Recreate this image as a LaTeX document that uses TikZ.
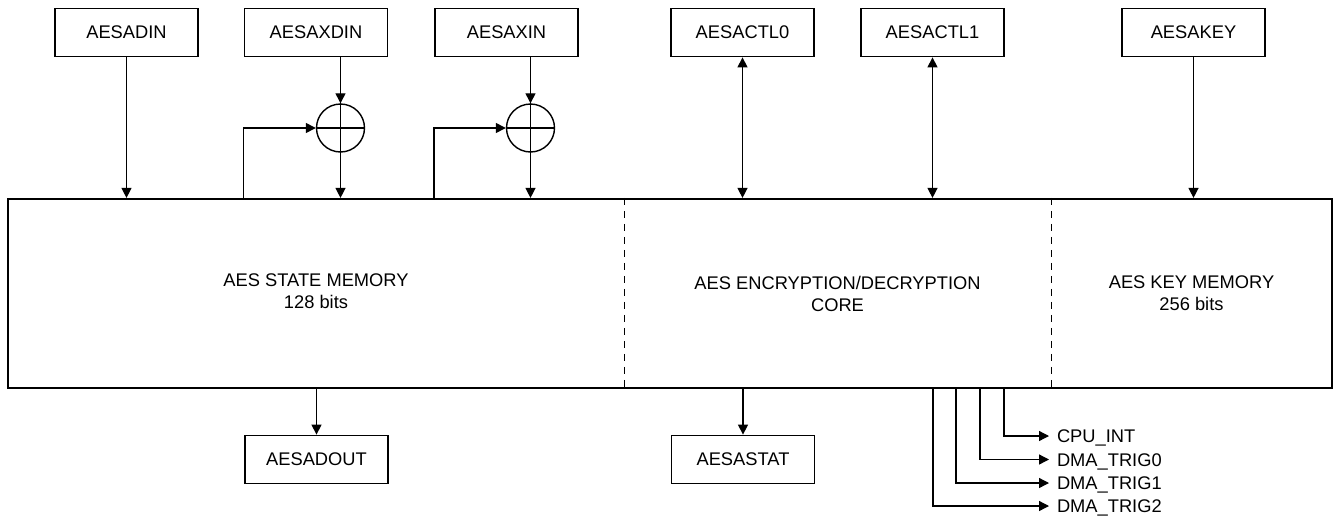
\documentclass[tikz,border=0pt]{standalone}
\usepackage{fontspec}
\setmainfont{Liberation Sans}
\usetikzlibrary{arrows.meta}
\begin{document}
\begin{tikzpicture}[x=1pt,y=-1pt,
  reg/.style={draw, line width=1.8pt, minimum width=143pt, minimum height=48pt, inner sep=0pt, font=\fontsize{18.3}{22}\selectfont},
  lbl/.style={font=\fontsize{18.3}{22}\selectfont, align=center, inner sep=0pt},
  sig/.style={font=\fontsize{18.3}{22}\selectfont, anchor=west, inner xsep=8pt, inner ysep=0pt, outer sep=0pt, text height=13pt, text depth=0pt},
  tip/.style={Triangle[length=10pt,width=10pt]},
  ln/.style={line width=1.3pt},
  arr/.style={ln, -{Triangle[length=10pt,width=10pt]}},
  darr/.style={ln, {Triangle[length=10pt,width=10pt]}-{Triangle[length=10pt,width=10pt]}},
  xor/.style={draw, circle, line width=1.4pt, minimum size=48pt, inner sep=0pt},
  sep/.style={line width=1pt, dash pattern=on 7pt off 6pt}
]
\useasboundingbox (0,0) rectangle (1336,517);

% main block
\node[draw, line width=2.2pt, minimum width=1324pt, minimum height=189pt, inner sep=0pt] (main) at (670,293.5) {};
\coordinate (d1t) at (main.north -| 624,0);
\coordinate (d1b) at (main.south -| 624,0);
\coordinate (d2t) at (main.north -| 1051,0);
\coordinate (d2b) at (main.south -| 1051,0);
\draw[sep] (d1t) -- (d1b);
\draw[sep] (d2t) -- (d2b);

\node[lbl] (state) at (316,291) {AES STATE MEMORY\\128 bits};
\node[lbl] (core) at (837.5,294) {AES ENCRYPTION/DECRYPTION\\CORE};
\node[lbl] (keym) at (1191.5,293) {AES KEY MEMORY\\256 bits};

% top registers
\node[reg] (din) at (126.5,32.5) {AESADIN};
\node[reg] (xdin) at (316,32.5) {AESAXDIN};
\node[reg] (xin) at (506.5,32.5) {AESAXIN};
\node[reg] (c0) at (742.5,32.5) {AESACTL0};
\node[reg] (c1) at (932.5,32.5) {AESACTL1};
\node[reg] (key) at (1193.5,32.5) {AESAKEY};

% xor gates
\node[xor] (x1) at (340.5,128) {};
\node[xor] (x2) at (530.5,128) {};
\draw[ln] (x1.north) -- (x1.south) (x1.west) -- (x1.east);
\draw[ln] (x2.north) -- (x2.south) (x2.west) -- (x2.east);

% top connectors
\draw[arr] (din.south) -- (din.south |- main.north);
\draw[arr] (xdin.south -| x1) -- (x1.north);
\draw[arr] (x1.south) -- (x1.south |- main.north);
\draw[arr] (main.north -| xdin.west) |- (x1.west);
\draw[arr] (xin.south -| x2) -- (x2.north);
\draw[arr] (x2.south) -- (x2.south |- main.north);
\draw[arr] (main.north -| xin.west) |- (x2.west);
\draw[darr] (c0.south) -- (c0.south |- main.north);
\draw[darr] (c1.south) -- (c1.south |- main.north);
\draw[arr] (key.south) -- (key.south |- main.north);

% bottom registers
\node[reg] (dout) at (316.5,459.5) {AESADOUT};
\node[reg] (stat) at (743,459.5) {AESASTAT};
\draw[arr] (main.south -| dout) -- (dout.north);
\draw[arr] (main.south -| stat) -- (stat.north);

% output signals
\node[sig] (cpu) at (1049,436) {CPU\_INT};
\node[sig] (t0) at (1049,459.5) {DMA\_TRIG0};
\node[sig] (t1) at (1049,483) {DMA\_TRIG1};
\node[sig] (t2) at (1049,506) {DMA\_TRIG2};
\coordinate (p0) at (main.south -| 1004,0);
\coordinate (p1) at (main.south -| 980,0);
\coordinate (p2) at (main.south -| 956,0);
\coordinate (p3) at (main.south -| 933,0);
\draw[arr] (p0) |- (cpu.west);
\draw[arr] (p1) |- (t0.west);
\draw[arr] (p2) |- (t1.west);
\draw[arr] (p3) |- (t2.west);
\end{tikzpicture}
\end{document}
